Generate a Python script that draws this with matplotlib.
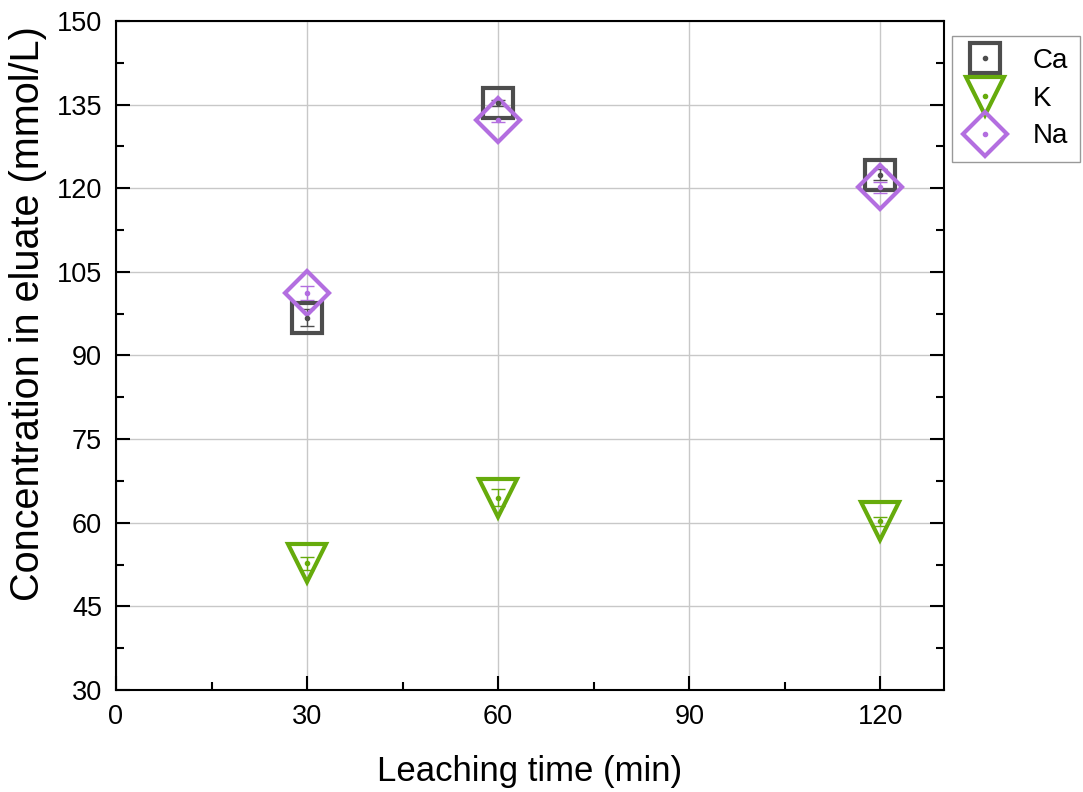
import matplotlib.pyplot as plt
from matplotlib.legend_handler import HandlerTuple
import numpy as np

plt.rcParams['font.family'] = ['Liberation Sans', 'DejaVu Sans']

# leaching time (min)
time = [30, 60, 120]

# concentration in eluate (mmol/L) and error
ca = [96.8, 135.3, 122.4]
ca_err = [1.5, 0.6, 1.0]
k = [52.7, 64.5, 60.3]
k_err = [1.2, 1.5, 0.8]
na = [101.2, 132.3, 120.2]
na_err = [1.2, 0.5, 1.0]

fig = plt.figure(figsize=(10.83, 7.92), dpi=100)
ax = fig.add_axes([0.1071, 0.1288, 0.7646, 0.8447])

series = [
    ('Ca', ca, ca_err, '#4d4d4d', 's', 21),
    ('K', k, k_err, '#66ab0c', 'v', 27),
    ('Na', na, na_err, '#b36ee0', 'D', 22),
]

handles = []
for name, y, err, col, mk, ms in series:
    ax.errorbar(time, y, yerr=err, fmt='none', ecolor=col, elinewidth=1,
                capsize=5, capthick=1, zorder=3)
    h, = ax.plot(time, y, linestyle='none', marker=mk, ms=ms, mfc='none',
                 mec=col, mew=3, zorder=4)
    ax.plot(time, y, linestyle='none', marker='o', ms=3, color=col, zorder=5)
    # legend handle: open marker + center dot
    dot, = ax.plot([], [], linestyle='none', marker='o', ms=3, color=col)
    handles.append(((h, dot), name))

ax.set_xlim(0, 130)
ax.set_ylim(30, 150)
ax.set_xticks([0, 30, 60, 90, 120])
ax.set_xticks([15, 45, 75, 105], minor=True)
ax.set_yticks(np.arange(30, 151, 15))
ax.set_yticks(np.arange(37.5, 150, 15), minor=True)

ax.grid(True, which='major', color='#c8c8c8', lw=1, zorder=0)
ax.set_axisbelow(True)

ax.tick_params(which='both', direction='in', right=True, top=False,
               labelsize=19.5, width=1.5, pad=10)
ax.tick_params(which='major', length=10)
ax.tick_params(which='minor', length=6)
for s in ax.spines.values():
    s.set_linewidth(1.5)

ax.set_xlabel('Leaching time (min)', fontsize=25, labelpad=18)
ax.set_ylabel('Concentration in eluate (mmol/L)', fontsize=28.5)
ax.yaxis.set_label_coords(-0.083, 0.563)

leg = fig.legend([h for h, _ in handles], [n for _, n in handles],
                 loc='upper left', bbox_to_anchor=(0.879, 0.955),
                 fontsize=20, frameon=True, fancybox=False, edgecolor='#808080',
                 handlelength=1.5, handletextpad=0.95, labelspacing=0.42,
                 borderpad=0.45, borderaxespad=0,
                 handler_map={tuple: HandlerTuple(ndivide=1)})
leg.get_frame().set_linewidth(1)

fig.savefig('out.png', dpi=100)
